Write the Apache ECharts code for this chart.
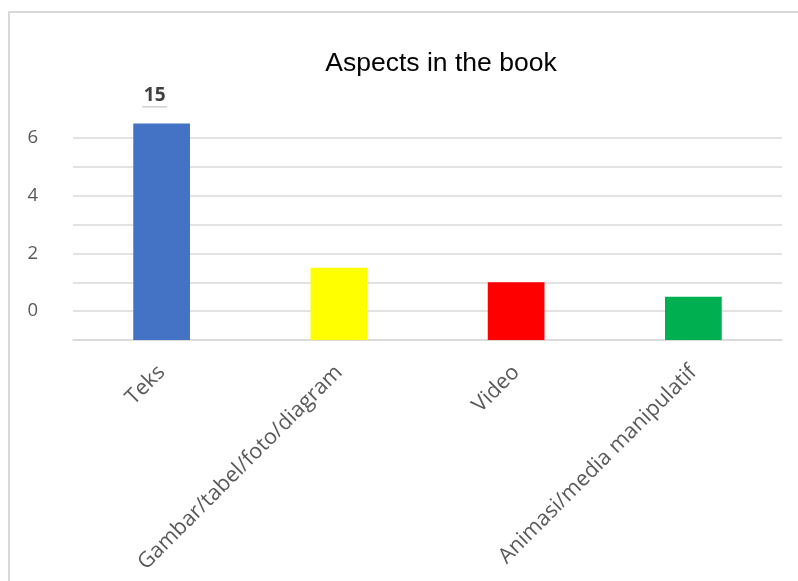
<!DOCTYPE html>
<html>
<head>
<meta charset="utf-8">
<script src="https://cdn.jsdelivr.net/npm/echarts@6/dist/echarts.min.js"></script>
<style>
  html, body { margin: 0; padding: 0; background: #ffffff; }
  #chart { width: 798px; height: 581px; }
</style>
</head>
<body>
<div id="chart"></div>
<script>
// Categories and counts per aspect
const categories = ['Teks', 'Gambar/tabel/foto/diagram', 'Video', 'Animasi/media manipulatif'];
const counts = [15, 5, 4, 3];
const barColors = ['#4472C4', '#FFFF00', '#FF0000', '#00B050'];
const showValueLabel = [true, false, false, false];

// Value-axis ticks (every 2 units) and the text printed beside them
const yTickValues = [0, 2, 4, 6, 8, 10, 12, 14];
const yTickLabels = ['', '0', '', '2', '', '4', '', '6'];

const chart = echarts.init(document.getElementById('chart'), null, { renderer: 'canvas' });

const barData = counts.map((v, i) => ({
  value: v,
  itemStyle: { color: barColors[i] },
  label: { show: showValueLabel[i] }
}));

chart.setOption({
  animation: false,
  backgroundColor: '#ffffff',
  title: {
    text: 'Aspects in the book',
    left: 436,
    textAlign: 'center',
    top: 45,
    textStyle: {
      fontFamily: 'Liberation Sans',
      fontSize: 26.5,
      fontWeight: 'normal',
      color: '#000000'
    }
  },
  graphic: [{
    type: 'rect',
    shape: { x: 9, y: 12, width: 820, height: 620 },
    style: { fill: 'none', stroke: '#d9d9d9', lineWidth: 2 },
    silent: true
  }],
  grid: { left: 73, right: 16, top: 138, bottom: 241 },
  xAxis: {
    type: 'category',
    data: categories,
    axisLine: { show: true, lineStyle: { color: '#d9d9d9', width: 1.5 } },
    axisTick: { show: false },
    axisLabel: {
      interval: 0,
      rotate: 45,
      margin: 29,
      color: '#595959',
      fontFamily: 'Open Sans',
      fontSize: 21.5
    }
  },
  yAxis: {
    type: 'value',
    min: yTickValues[0],
    max: yTickValues[yTickValues.length - 1],
    interval: 2,
    axisLine: { show: false },
    axisTick: { show: false },
    splitLine: { lineStyle: { color: '#d9d9d9', width: 1.5 } },
    axisLabel: {
      margin: 35,
      color: '#595959',
      fontFamily: 'Open Sans',
      fontSize: 18.5,
      padding: [0, 0, 5, 0],
      formatter: function (v) {
        const idx = yTickValues.indexOf(v);
        return idx >= 0 ? yTickLabels[idx] : '';
      }
    }
  },
  series: [{
    type: 'bar',
    data: barData,
    barWidth: '32%',
    clip: false,
    label: {
      position: 'top',
      distance: 16,
      offset: [-7, 0],
      formatter: function (p) { return '{v|' + p.value + '}\n{u|}'; },
      rich: {
        v: {
          fontFamily: 'Open Sans',
          fontSize: 19,
          fontWeight: 'bold',
          color: '#404040',
          align: 'center',
          lineHeight: 20
        },
        u: {
          width: 25,
          height: 1.5,
          backgroundColor: '#d0d0d0',
          align: 'center'
        }
      }
    }
  }]
});
</script>
</body>
</html>
